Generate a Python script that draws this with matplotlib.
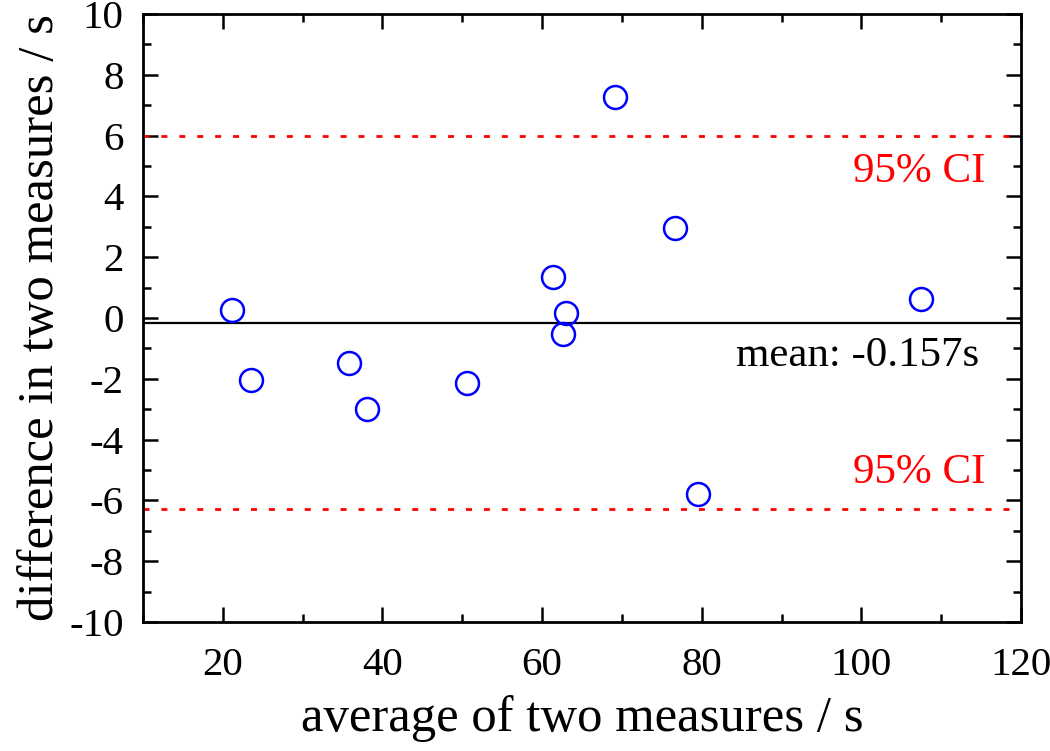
import matplotlib
matplotlib.use('Agg')
import matplotlib.pyplot as plt
from matplotlib.ticker import MultipleLocator
import numpy as np

plt.rcParams['font.family'] = ['Liberation Serif', 'DejaVu Serif']
plt.rcParams['lines.scale_dashes'] = False
plt.rcParams['axes.unicode_minus'] = False

avg_vals = [21.1, 23.5, 35.8, 38.1, 50.6, 61.4, 63.0, 62.6, 69.1, 76.7, 79.5, 107.5]
diff_vals = [0.26, -2.04, -1.48, -2.99, -2.14, 1.35, 0.16, -0.53, 7.27, 2.96, -5.79, 0.63]
mean_diff = -0.157
ci_upper = 5.98
ci_lower = -6.29

x_ticks = [20, 40, 60, 80, 100, 120]
y_ticks = list(range(-10, 11, 2))

fig = plt.figure(figsize=(10.5, 7.51), dpi=100)
ax = fig.add_axes([0.1362, 0.1718, 0.8362, 0.8096])

ax.axhline(mean_diff, color='black', lw=1.6)
ax.axhline(ci_upper, color='red', lw=2.0, linestyle=(0, (4.3, 8.6)))
ax.axhline(ci_lower, color='red', lw=2.0, linestyle=(0, (4.3, 8.6)))

ax.plot(avg_vals, diff_vals, 'o', ms=16.5, mfc='none', mec='blue', mew=1.8)

ax.text(115.5, ci_upper - 0.55, '95% CI', color='red', fontsize=31,
        ha='right', va='top')
ax.text(115.5, ci_lower + 0.55, '95% CI', color='red', fontsize=31,
        ha='right', va='bottom')
ax.text(114.8, mean_diff - 0.45, 'mean: %.3fs' % mean_diff, color='black',
        fontsize=31, ha='right', va='top')

ax.set_xlim(10, 120)
ax.set_ylim(-10, 10)
ax.set_xticks(x_ticks)
ax.set_yticks(y_ticks)
ax.xaxis.set_minor_locator(MultipleLocator(10))
ax.yaxis.set_minor_locator(MultipleLocator(1))
ax.tick_params(which='both', direction='in', top=True, right=True,
               width=1.8, labelsize=29.5)
ax.tick_params(which='major', length=11)
ax.tick_params(which='minor', length=6)
ax.tick_params(axis='x', pad=18)
ax.tick_params(axis='y', pad=14)
for sp in ax.spines.values():
    sp.set_linewidth(2.0)

ax.set_xlabel('average of two measures / s', fontsize=36.5, labelpad=8)
ax.set_ylabel('difference in two measures / s', fontsize=36.5, labelpad=4)

plt.savefig('out.png', dpi=100, facecolor='white')
plt.close()
